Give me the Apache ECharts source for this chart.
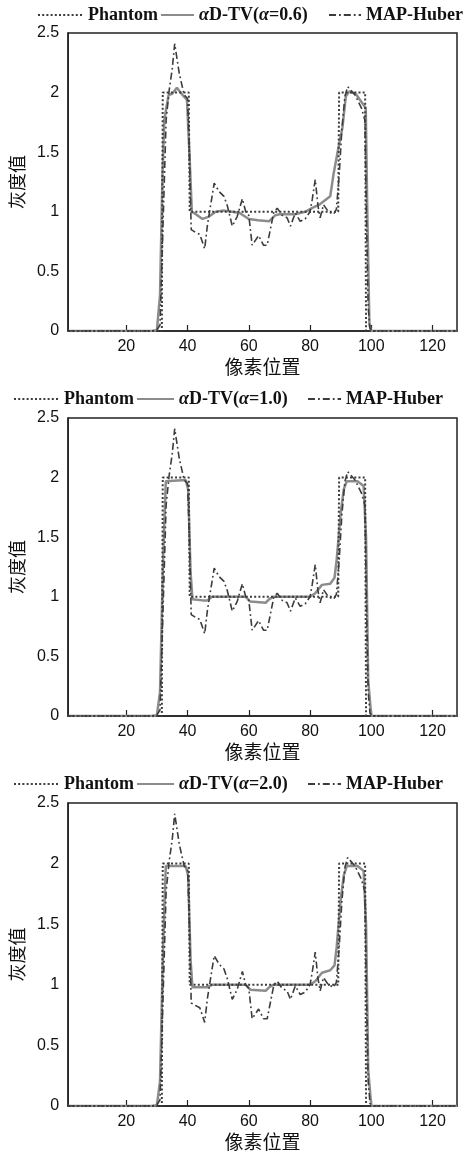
<!DOCTYPE html>
<html>
<head>
<meta charset="utf-8">
<script src="https://cdn.jsdelivr.net/npm/echarts@6.0.0/dist/echarts.min.js"></script>
<style>
  html, body { margin: 0; padding: 0; background: #fff; }
  #main { width: 472px; height: 1152px; }
</style>
</head>
<body>
<div id="main"></div>
<script>
// x = pixel position, y = gray value
var xTicks = [20, 40, 60, 80, 100, 120];
var alphas = ['0.6', '1.0', '2.0'];

var phantom = [[1,0],[31.6,0],[31.9,2],[40.4,2],[40.7,1],[89.2,1],[89.5,2],[98,2],[98.3,0],[128,0]];

var mapHuber = [[1,0],[28,0],[30,0.01],[31,0.05],[32,0.9],[33,1.77],[34,2.02],[35,2.2],[35.8,2.41],[37.3,2.16],
  [38.9,1.98],[40,1.95],[40.6,1.5],[41.2,0.85],[42.5,0.83],[44,0.81],[45.6,0.69],[46.5,0.89],[48.7,1.24],[50.3,1.17],
  [51.9,1.13],[53,1.05],[54.6,0.88],[56.2,0.96],[57.9,1.11],[59,1.0],[60,0.97],[61.1,0.72],[63.2,0.80],[64.8,0.72],
  [66,0.72],[68.2,1.0],[69.3,1.03],[70.9,0.97],[72.5,0.95],[73.6,0.88],[75.2,0.99],[76.8,0.92],[78.4,0.94],[80,1.0],
  [80.7,1.1],[81.7,1.27],[82.6,1.05],[83.3,0.95],[84.4,1.06],[86,1.0],[87.7,0.98],[88.6,1.02],[89.5,1.3],[90.4,1.69],
  [91.4,1.97],[92.3,2.05],[94.7,1.98],[96.8,1.87],[97.9,1.77],[98.4,1.0],[99,0.2],[99.6,0.02],[101,0],[128,0]];

var tv06 = [[1,0],[29,0],[30,0.01],[31,0.3],[31.8,1.3],[32.4,1.77],[33.8,1.98],[35,1.99],[36.5,2.04],[38.7,1.97],
  [39.8,1.94],[40.6,1.5],[41.4,1.0],[42.7,0.98],[44.9,0.94],[47,0.96],[49.2,1.0],[51.4,1.01],[54.6,1.0],[57,0.99],
  [60,0.94],[63,0.93],[66.6,0.92],[68.6,0.97],[70,0.98],[75,0.98],[78.4,1.0],[80.6,1.03],[83,1.06],[86.6,1.13],
  [87.7,1.32],[89,1.5],[90.6,1.71],[91.7,1.97],[92.8,2.01],[94.9,1.99],[97.1,1.91],[98.2,1.87],[98.7,1.0],[99.4,0.05],
  [100,0],[128,0]];

var tv10 = [[1,0],[29,0],[30,0.01],[31,0.2],[32,1.3],[32.9,1.97],[39.4,1.98],[40.2,1.9],[41,1.2],[41.6,0.98],
  [44.9,0.97],[46.5,0.97],[48,1.0],[59,1.0],[60.5,0.96],[65.5,0.95],[66.7,0.98],[68,1.0],[80,1.0],[81.7,1.03],
  [83.9,1.1],[86.6,1.11],[88,1.16],[88.7,1.31],[90,1.7],[91,1.9],[92,1.97],[95.5,1.97],[97.5,1.93],[98.3,1.5],
  [99,0.3],[100,0],[128,0]];

var tv20 = [[1,0],[29,0],[30,0.01],[31,0.2],[32,1.3],[32.9,1.98],[39.4,1.98],[40.2,1.9],[41,1.2],[41.6,0.98],
  [44.9,0.98],[46.5,0.98],[48,1.0],[59,1.0],[60.5,0.96],[65.5,0.95],[66.7,0.98],[68,1.0],[80,1.0],[81.7,1.03],
  [83.9,1.1],[86.6,1.12],[88,1.16],[88.7,1.31],[90,1.7],[91,1.9],[92,1.98],[95.5,1.98],[97.5,1.94],[98.3,1.5],
  [99,0.3],[100,0],[128,0]];

var tvData = [tv06, tv10, tv20];

// legend: [left, itemWidth] for each of the 3 entries
var panels = [
  {top: 33, height: 298, legendTop: 6, lg: [[37, 45], [160, 33], [328, 32]]},
  {top: 418, height: 298, legendTop: 390, lg: [[13, 45], [136, 37], [307, 33]]},
  {top: 803, height: 304, legendTop: 775, lg: [[13, 45], [136, 37], [307, 33]]}
];

var legendText = {fontFamily: 'Liberation Serif', fontSize: 18, fontWeight: 'bold', color: '#111',
  rich: {i: {fontStyle: 'italic', fontFamily: 'Liberation Serif', fontSize: 18, fontWeight: 'bold', color: '#111'}}};

var grids = [], xAxes = [], yAxes = [], series = [], legends = [];

panels.forEach(function(p, i) {
  var tvName = 'αD-TV(α=' + alphas[i] + ')';
  grids.push({left: 64, width: 393, top: p.top, height: p.height, show: true,
    borderColor: '#222', borderWidth: 1.5, backgroundColor: 'transparent'});
  xAxes.push({type: 'value', gridIndex: i, min: 1, max: 128,
    name: '像素位置', nameLocation: 'middle', nameGap: 26,
    nameTextStyle: {fontFamily: 'Noto Sans CJK SC', fontSize: 19, color: '#111'},
    axisLine: {lineStyle: {color: '#222', width: 1.5}},
    axisTick: {inside: true, length: 6, customValues: xTicks, lineStyle: {color: '#222', width: 1.2}},
    axisLabel: {customValues: xTicks, margin: 8, fontFamily: 'Liberation Sans', fontSize: 16, color: '#111'},
    splitLine: {show: false}});
  yAxes.push({type: 'value', gridIndex: i, min: 0, max: 2.5, interval: 0.5,
    name: '灰度值', nameLocation: 'middle', nameGap: 38, nameRotate: 90,
    nameTextStyle: {fontFamily: 'Noto Sans CJK SC', fontSize: 18, color: '#111'},
    axisLine: {lineStyle: {color: '#222', width: 1.5}},
    axisTick: {show: false},
    axisLabel: {margin: 9, fontFamily: 'Liberation Sans', fontSize: 16, color: '#111'},
    splitLine: {show: false}});

  series.push({name: 'Phantom', type: 'line', xAxisIndex: i, yAxisIndex: i, data: phantom,
    symbol: 'none', itemStyle: {color: '#3c3c3c'},
    lineStyle: {color: '#3c3c3c', width: 2, type: [2, 2.2]}, z: 3});
  series.push({name: tvName, type: 'line', xAxisIndex: i, yAxisIndex: i, data: tvData[i],
    symbol: 'none', itemStyle: {color: '#8c8c8c'},
    lineStyle: {color: '#8c8c8c', width: 2.5, type: 'solid'}, z: 2});
  series.push({name: 'MAP-Huber', type: 'line', xAxisIndex: i, yAxisIndex: i, data: mapHuber,
    symbol: 'none', itemStyle: {color: '#3c3c3c'},
    lineStyle: {color: '#3c3c3c', width: 1.6, type: [7, 3, 1.8, 3]}, z: 4});

  var names = ['Phantom', tvName, 'MAP-Huber'];
  names.forEach(function(n, k) {
    var lg = {data: [n], left: p.lg[k][0], top: p.legendTop, padding: 0,
      itemWidth: p.lg[k][1], itemHeight: 14, itemGap: 0, textStyle: legendText,
      itemStyle: {opacity: 0}};
    if (k === 1) {
      lg.formatter = function() { return '{i|α}D-TV({i|α}=' + alphas[i] + ')'; };
    }
    legends.push(lg);
  });
});

var myChart = echarts.init(document.getElementById('main'));
myChart.setOption({
  animation: false,
  backgroundColor: '#fff',
  grid: grids,
  xAxis: xAxes,
  yAxis: yAxes,
  legend: legends,
  series: series
});
</script>
</body>
</html>
